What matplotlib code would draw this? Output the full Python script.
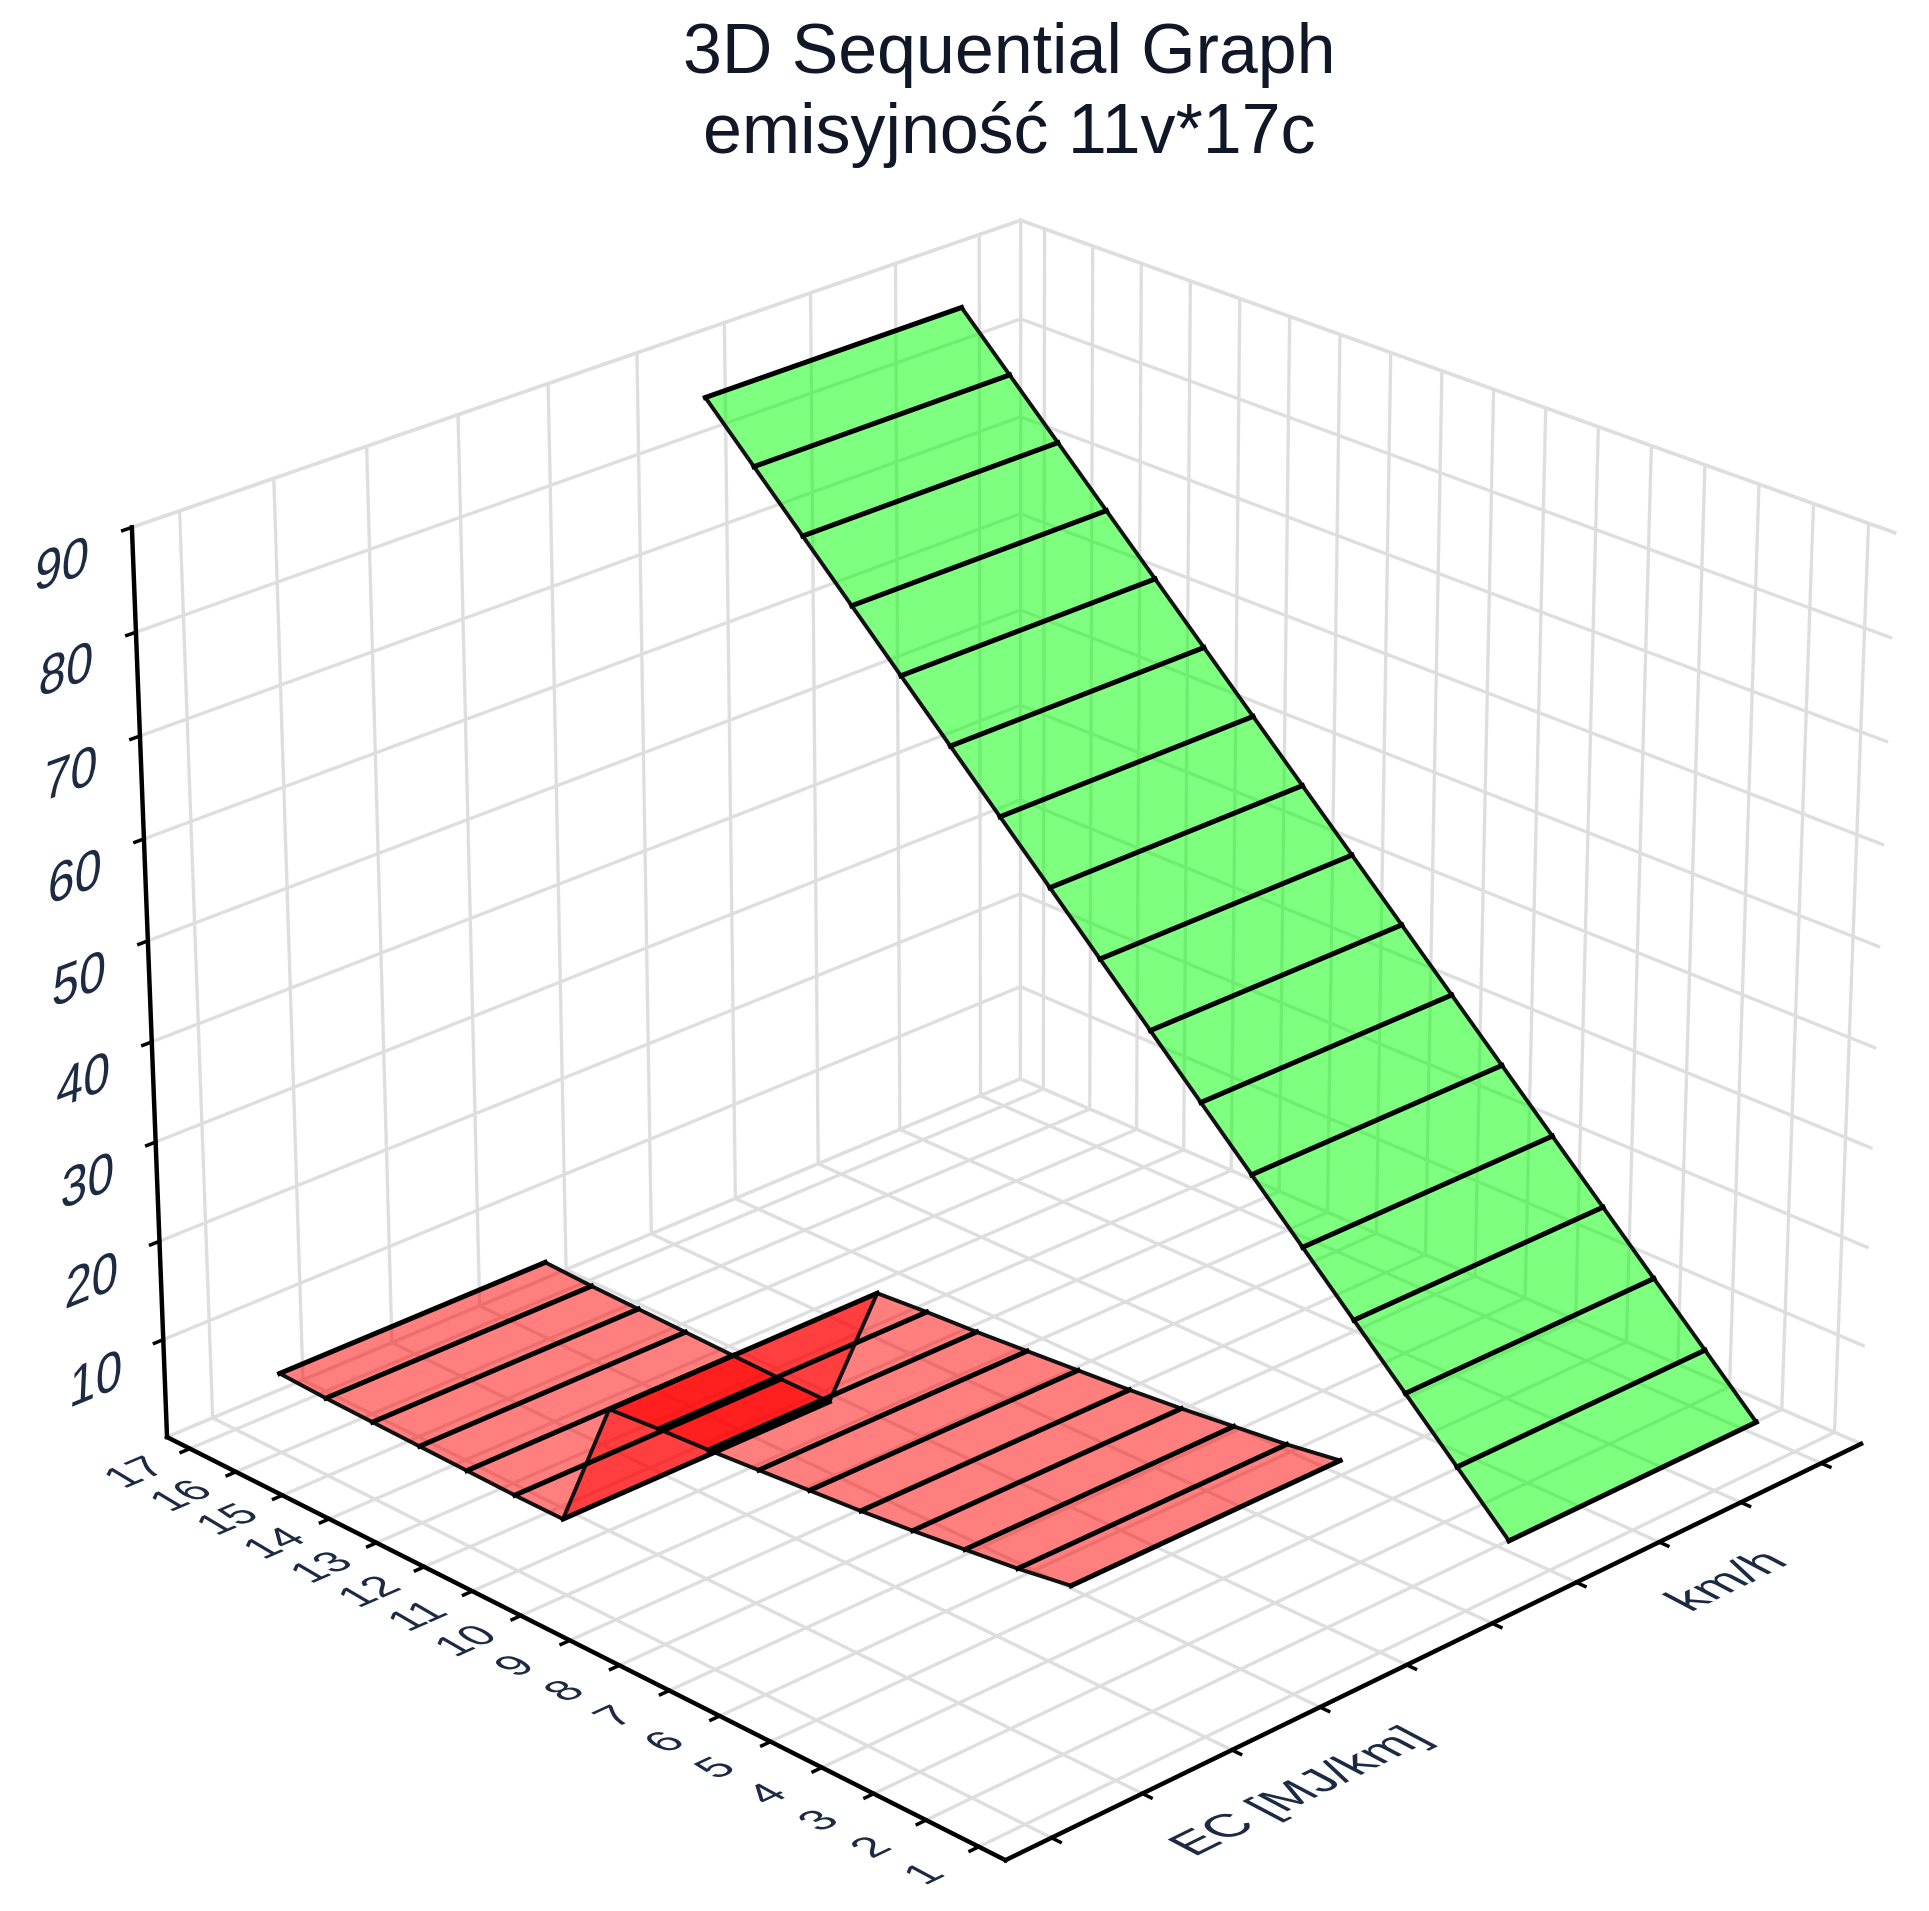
import math

import matplotlib
matplotlib.use("Agg")
import matplotlib.pyplot as plt
import numpy as np
from matplotlib.patheffects import AbstractPathEffect
from matplotlib.transforms import Affine2D
from mpl_toolkits.mplot3d import proj3d
from mpl_toolkits.mplot3d.art3d import Poly3DCollection

cases = list(range(1, 18))
var_ticks = list(range(1, 11))
var_labels = {3: "EC [MJ/km]", 8: "km/h"}
z_ticks = [10, 20, 30, 40, 50, 60, 70, 80, 90]

ec = [21, 20.2, 19.6, 19, 18.5, 18.1, 17.7, 17.3, 17, 16.6, 3.2, 3.2, 3.3, 3.4, 3.5, 3.6, 3.8]
kmh = [5, 10, 15, 20, 25, 30, 35, 40, 45, 50, 55, 60, 65, 70, 75, 80, 85]

txt = "#1c2a44"
plt.rcParams["font.family"] = ["Liberation Sans", "DejaVu Sans"]
plt.rcParams["grid.color"] = "#dedede"
plt.rcParams["grid.linewidth"] = 2.4
plt.rcParams["axes3d.grid"] = True


class Shear(AbstractPathEffect):
    # the labels lie in the floor / wall planes, so the glyphs are slanted
    def __init__(self, angle, yscale=1.0):
        super().__init__()
        self.angle = angle
        self.yscale = yscale

    def draw_path(self, renderer, gc, tpath, affine, rgbFace=None):
        tr = Affine2D().scale(1, self.yscale).skew_deg(self.angle, 0) + affine
        renderer.draw_path(gc, tpath, tr, rgbFace)


def ribbon(ax, center, values, color, z):
    xs = [center - 1.5, center + 1.5]
    polys = []
    for i in range(len(cases) - 1):
        polys.append([(xs[0], cases[i], values[i]), (xs[1], cases[i], values[i]),
                      (xs[1], cases[i + 1], values[i + 1]), (xs[0], cases[i + 1], values[i + 1])])
    ax.add_collection3d(Poly3DCollection(polys, facecolors=color, edgecolors="none", alpha=0.5, zorder=z))
    for x in xs:
        ax.plot([x] * len(cases), cases, values, color="#111111", lw=2.8, zorder=z + 1)
    for c, v in zip(cases, values):
        ax.plot(xs, [c, c], [v, v], color="black", lw=3.6, zorder=z + 1)


def label(ax, x, y, z, s, size, fx):
    # project to 2D here, baseline follows the x axis direction on screen
    m = ax.get_proj()
    px, py, _ = proj3d.proj_transform(x, y, z, m)
    qx, qy, _ = proj3d.proj_transform(x + 1, y, z, m)
    rot = math.degrees(math.atan2(qy - py, qx - px))
    ax.text2D(px, py, s, transform=ax.transData, ha="center", va="center", rotation=rot,
              fontsize=size, color=txt, path_effects=fx, zorder=20, clip_on=False)


fig = plt.figure(figsize=(19.29, 19.11), dpi=100)
ax = fig.add_axes([0.012, -0.034, 1, 1], projection="3d", computed_zorder=False)
ax.set_proj_type("persp", focal_length=1.0)
ax.view_init(elev=24.8, azim=-134.5)
ax.set_box_aspect((1, 1, 0.82), zoom=1.015)

ax.set_xlim(0.5, 10.5, view_margin=0)
ax.set_ylim(0.5, 17.5, view_margin=0)
ax.set_zlim(0, 90, view_margin=0)
ax.set_xticks(var_ticks)
ax.set_xticklabels([])
ax.set_yticks(cases)
ax.set_yticklabels([])
ax.set_zticks(z_ticks)
ax.set_zticklabels([])

for a in [ax.xaxis, ax.yaxis, ax.zaxis]:
    a.set_pane_color((1, 1, 1, 1))
    a.pane.set_edgecolor("#dedede")
    a.pane.set_linewidth(2.4)
    a.line.set_color("black")
    a.line.set_linewidth(3.2)
    a._axinfo["tick"]["inward_factor"] = 0.12
    a._axinfo["tick"]["outward_factor"] = 0.0
    a._axinfo["tick"]["color"] = "black"
    a._axinfo["tick"]["linewidth"] = {True: 2.5, False: 1}

floor_fx = [Shear(-36, 0.78)]
wall_fx = [Shear(25, 1.0)]
for c in cases:
    label(ax, 0.5 - 0.52, c, 0, str(c), 32, floor_fx)
for v, name in var_labels.items():
    label(ax, v, 0.5 - 1.4, 0, name, 37, floor_fx)
for z in z_ticks:
    label(ax, 0.5 - 0.8, 17.5, z - 1.5, str(z), 37, wall_fx)

ribbon(ax, 3, ec, "red", 5)
ribbon(ax, 8, kmh, "lime", 10)

fig.text(0.523, 0.971, "3D Sequential Graph", ha="center", va="center", fontsize=50.3, color="#101828")
fig.text(0.523, 0.9295, "emisyjność 11v*17c", ha="center", va="center", fontsize=50.3, color="#101828")

fig.savefig("out.png", dpi=100)
